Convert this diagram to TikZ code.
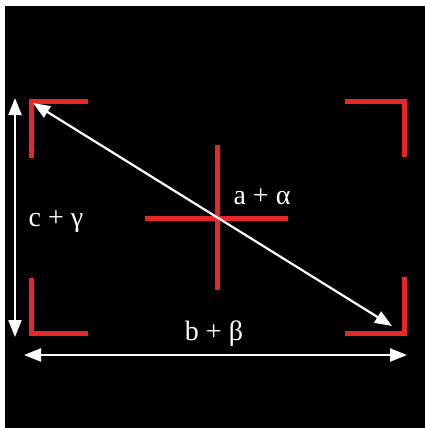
\documentclass[tikz,border=0pt]{standalone}
\usepackage{fontspec}
\setmainfont{Liberation Serif}
\usetikzlibrary{arrows.meta}
\definecolor{brk}{RGB}{232,40,40}
\tikzset{
  brack/.style={draw=brk,line width=5pt},
  dim/.style={draw=white,line width=2.2pt,{Triangle[length=17pt,width=13pt]}-{Triangle[length=17pt,width=13pt]}},
  lbl/.style={text=white,font=\fontsize{28}{32}\selectfont,inner sep=0pt}
}
\begin{document}
\begin{tikzpicture}[x=1pt,y=-1pt]
\useasboundingbox (0,0) rectangle (425,428);
\fill[black] (-10,-10) rectangle (440,440);
\fill[white] (-10,-10) rectangle (5,440);
\fill[white] (-10,-10) rectangle (440,6);
% brackets
\draw[brack] (88,101) -- (31,101) -- (31,158);
\draw[brack] (345,101) -- (404,101) -- (404,157);
\draw[brack] (31,278) -- (31,333) -- (88,333);
\draw[brack] (404,277) -- (404,333) -- (345,333);
% cross
\draw[brack] (217,145) -- (217,290);
\draw[brack] (145,218) -- (288,218);
% coordinates
\coordinate (tl) at (33,103);
\coordinate (br) at (392,326);
\coordinate (vt) at (15,98);
\coordinate (vb) at (15,337);
\coordinate (hl) at (24,355);
\coordinate (hr) at (407,355);
\draw[dim] (tl) -- (br);
\draw[dim] (vt) -- (vb);
\draw[dim] (hl) -- (hr);
% labels
\node[lbl] (c) at (56,222) {c + γ};
\node[lbl] (a) at (262,197) {a + α};
\node[lbl] (b) at (214,334) {b + β};
\end{tikzpicture}
\end{document}
